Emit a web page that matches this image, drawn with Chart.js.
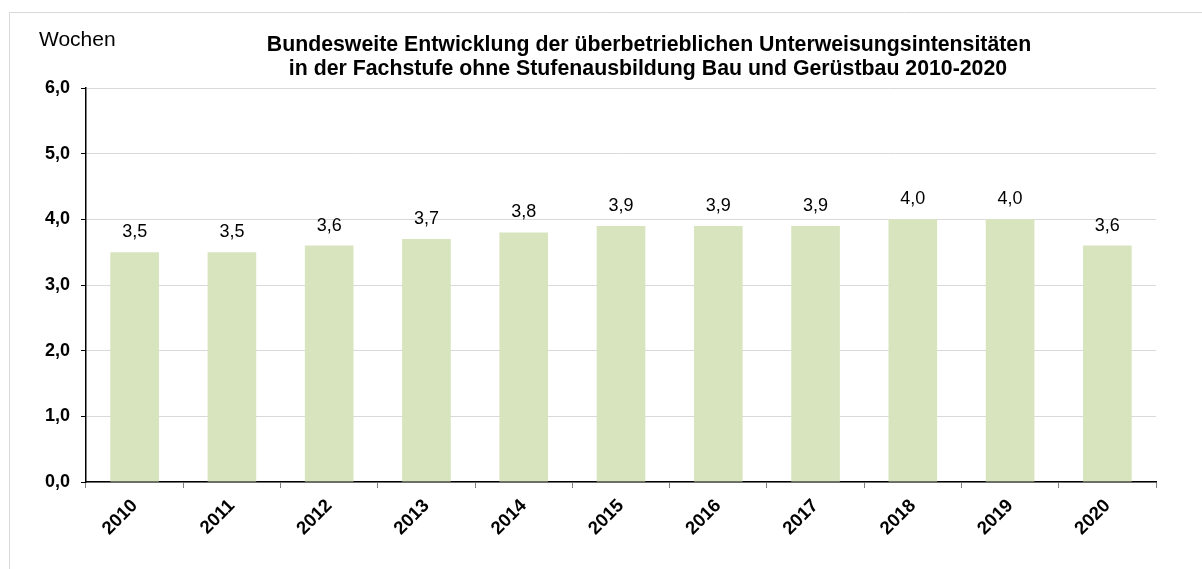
<!DOCTYPE html>
<html lang="de">
<head>
<meta charset="utf-8">
<title>Unterweisungsintensitäten</title>
<script src="https://cdn.jsdelivr.net/npm/chart.js@4/dist/chart.umd.min.js"></script>
<style>
  html, body { margin: 0; padding: 0; background: #fff; }
  #wrap { width: 1202px; height: 569px; position: relative; }
</style>
</head>
<body>
<div id="wrap"><canvas id="chart" width="1202" height="569"></canvas></div>
<script>
// Daten
const jahre = ['2010', '2011', '2012', '2013', '2014', '2015', '2016', '2017', '2018', '2019', '2020'];
const wochen = [3.5, 3.5, 3.6, 3.7, 3.8, 3.9, 3.9, 3.9, 4.0, 4.0, 3.6];
const titelZeilen = [
    'Bundesweite Entwicklung der überbetrieblichen Unterweisungsintensitäten',
    'in der Fachstufe ohne Stufenausbildung Bau und Gerüstbau 2010-2020'
];
const achsenTitel = 'Wochen';

const FONT = '"Liberation Sans", Arial, sans-serif';

function komma(v) {
    return Number(v).toFixed(1).replace('.', ',');
}

// Rahmen, Titel und Werte über den Balken
const dekoPlugin = {
    id: 'deko',
    beforeDraw(chart) {
        const ctx = chart.ctx;
        ctx.save();
        ctx.strokeStyle = '#d9d9d9';
        ctx.lineWidth = 1;
        ctx.beginPath();
        ctx.moveTo(9.5, 600);
        ctx.lineTo(9.5, 12.5);
        ctx.lineTo(1300, 12.5);
        ctx.stroke();
        ctx.restore();
    },
    afterDatasetsDraw(chart) {
        const ctx = chart.ctx;
        const meta = chart.getDatasetMeta(0);
        ctx.save();
        ctx.font = '18px ' + FONT;
        ctx.fillStyle = '#000';
        ctx.textAlign = 'center';
        ctx.textBaseline = 'alphabetic';
        meta.data.forEach(function(bar, i) {
            ctx.fillText(komma(wochen[i]), bar.x, bar.y - 15);
        });
        ctx.restore();
    },
    afterDraw(chart) {
        const ctx = chart.ctx;
        ctx.save();
        ctx.fillStyle = '#000';
        ctx.textBaseline = 'alphabetic';
        ctx.textAlign = 'center';
        ctx.font = 'bold 21.3px ' + FONT;
        ctx.fillText(titelZeilen[0], 649, 51);
        ctx.fillText(titelZeilen[1], 648, 75);
        ctx.textAlign = 'left';
        ctx.font = '21px ' + FONT;
        ctx.fillText(achsenTitel, 39, 46);
        ctx.restore();
    }
};

const chart = new Chart(document.getElementById('chart').getContext('2d'), {
    type: 'bar',
    data: {
        labels: jahre,
        datasets: [{
            data: wochen,
            backgroundColor: '#d7e4bd',
            borderWidth: 0,
            barPercentage: 0.5,
            categoryPercentage: 1.0
        }]
    },
    options: {
        responsive: false,
        animation: false,
        layout: {
            padding: { left: 0, right: 46, top: 88, bottom: 0 }
        },
        plugins: {
            legend: { display: false },
            tooltip: { enabled: false }
        },
        scales: {
            x: {
                grid: {
                    offset: true,
                    drawOnChartArea: false,
                    tickLength: 6,
                    tickColor: '#808080'
                },
                border: { color: '#000', width: 1.5 },
                ticks: {
                    minRotation: 45,
                    maxRotation: 45,
                    padding: 7,
                    color: '#000',
                    font: { family: FONT, size: 18.5, weight: 'bold' }
                },
                afterFit(scale) { scale.height = 87; }
            },
            y: {
                min: 0,
                max: 6,
                ticks: {
                    stepSize: 1,
                    padding: 11,
                    color: '#000',
                    font: { family: FONT, size: 18, weight: 'bold' },
                    callback: function(v) { return komma(v); }
                },
                grid: {
                    color: '#d9d9d9',
                    tickColor: '#000',
                    tickLength: 5
                },
                border: { color: '#000', width: 1.5 },
                afterFit(scale) { scale.width = 86; }
            }
        }
    },
    plugins: [dekoPlugin]
});
</script>
</body>
</html>
